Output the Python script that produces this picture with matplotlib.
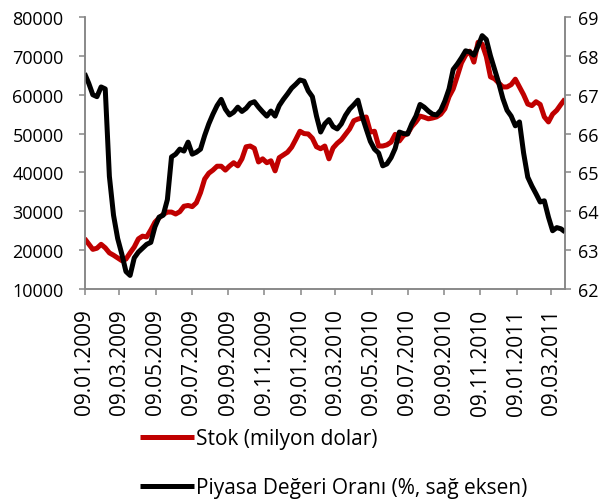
import matplotlib
matplotlib.use('Agg')
import matplotlib.pyplot as plt
import matplotlib.dates as mdates
import pandas as pd


# -----------------------------------------------------------------------------
# data (weekly)
# -----------------------------------------------------------------------------
dates = pd.date_range('2009-01-09', periods=117, freq='7D')

stok = [
    23000, 21600, 20200, 20500, 21500, 20600, 19300, 18700, 18000, 17300,
    17700, 19300, 20800, 22900, 23600, 23400, 25200, 27200, 28300, 29200,
    29800, 29800, 29300, 29900, 31300, 31500, 31200, 32200, 34800, 38300,
    39800, 40600, 41600, 41600, 40600, 41650, 42500, 41700, 43500, 46600,
    46800, 46200, 42700, 43500, 42500, 43000, 40400, 43800, 44500, 45200,
    46500, 48500, 50600, 50000, 49900, 48800, 46600, 46100, 46800, 43500,
    46300, 47500, 48400, 49800, 51200, 53300, 53750, 54000, 54270, 50400,
    50600, 46800, 46800, 47100, 47800, 49800, 48100, 49500, 50000, 51800,
    53000, 54500, 54200, 53800, 54000, 54300, 55000, 56400, 59500, 61500,
    64800, 68200, 70200, 71200, 68400, 73500, 73000, 69800, 64600, 64100,
    63000, 62000, 62000, 62600, 64000, 62000, 60000, 57600, 57200, 58200,
    57500, 54300, 53000, 55000, 56000, 57500, 58900,
]

piyasa_orani = [
    67.55, 67.30, 67.00, 66.95, 67.20, 67.15, 64.90, 63.90, 63.30, 62.90,
    62.45, 62.35, 62.80, 62.95, 63.05, 63.15, 63.20, 63.60, 63.85, 63.90,
    64.30, 65.40, 65.47, 65.60, 65.55, 65.78, 65.47, 65.52, 65.60, 65.95,
    66.25, 66.50, 66.72, 66.88, 66.63, 66.48, 66.55, 66.68, 66.57, 66.65,
    66.78, 66.82, 66.68, 66.56, 66.45, 66.58, 66.45, 66.72, 66.88, 67.02,
    67.17, 67.27, 67.38, 67.35, 67.10, 66.95, 66.45, 66.04, 66.25, 66.36,
    66.18, 66.12, 66.25, 66.47, 66.63, 66.74, 66.86, 66.45, 66.12, 65.80,
    65.60, 65.50, 65.17, 65.22, 65.38, 65.62, 66.04, 66.00, 65.99, 66.25,
    66.45, 66.75, 66.68, 66.58, 66.50, 66.48, 66.60, 66.84, 67.15, 67.65,
    67.79, 67.95, 68.13, 68.10, 68.02, 68.25, 68.52, 68.42, 68.00, 67.65,
    67.30, 66.90, 66.60, 66.45, 66.20, 66.30, 65.50, 64.88, 64.65, 64.45,
    64.24, 64.27, 63.85, 63.50, 63.58, 63.55, 63.47,
]

x_ticks = pd.date_range('2009-01-01', '2011-03-01', freq='2MS') + pd.Timedelta(days=8)
left_ticks = [10000, 20000, 30000, 40000, 50000, 60000, 70000, 80000]
right_ticks = [62, 63, 64, 65, 66, 67, 68, 69]

label_stok = 'Stok (milyon dolar)'
label_oran = 'Piyasa Değeri Oranı (%, sağ eksen)'


# -----------------------------------------------------------------------------
# style
# -----------------------------------------------------------------------------
plt.rcParams['font.family'] = ['Open Sans', 'DejaVu Sans']
gray = '#868686'

fig = plt.figure(figsize=(6.09, 5.02), dpi=100)
ax = fig.add_axes([0.1388, 0.4223, 0.789, 0.5418])
ax2 = ax.twinx()

ax.plot(dates, stok, color='#C00000', lw=3.6, solid_capstyle='butt', label=label_stok)
ax2.plot(dates, piyasa_orani, color='black', lw=3.6, solid_capstyle='butt', label=label_oran)

ax.set_ylim(10000, 80000)
ax.set_yticks(left_ticks)
ax2.set_ylim(62, 69)
ax2.set_yticks(right_ticks)
ax.set_xlim(dates[0], dates[-1])
ax.set_xticks(x_ticks)
ax.xaxis.set_major_formatter(mdates.DateFormatter('%d.%m.%Y'))

for a in (ax, ax2):
    a.spines['top'].set_visible(False)
    for s in ('left', 'right', 'bottom'):
        a.spines[s].set_color(gray)
        a.spines[s].set_linewidth(1.1)
    a.tick_params(colors=gray, width=1.1, length=4, direction='out')
    a.tick_params(axis='y', labelsize=13, labelcolor='black')
ax.tick_params(axis='y', pad=11)
ax2.tick_params(axis='y', pad=5)
ax.tick_params(axis='x', labelsize=15, labelcolor='black', pad=10, labelrotation=90)

handles = ax.get_lines() + ax2.get_lines()
fig.legend(handles, [h.get_label() for h in handles],
           loc='upper left', bbox_to_anchor=(0.23, 0.145),
           frameon=False, fontsize=15, handlelength=2.6, handletextpad=0.1,
           labelspacing=1.35, borderaxespad=0, borderpad=0)

fig.savefig('out.png', dpi=100)
